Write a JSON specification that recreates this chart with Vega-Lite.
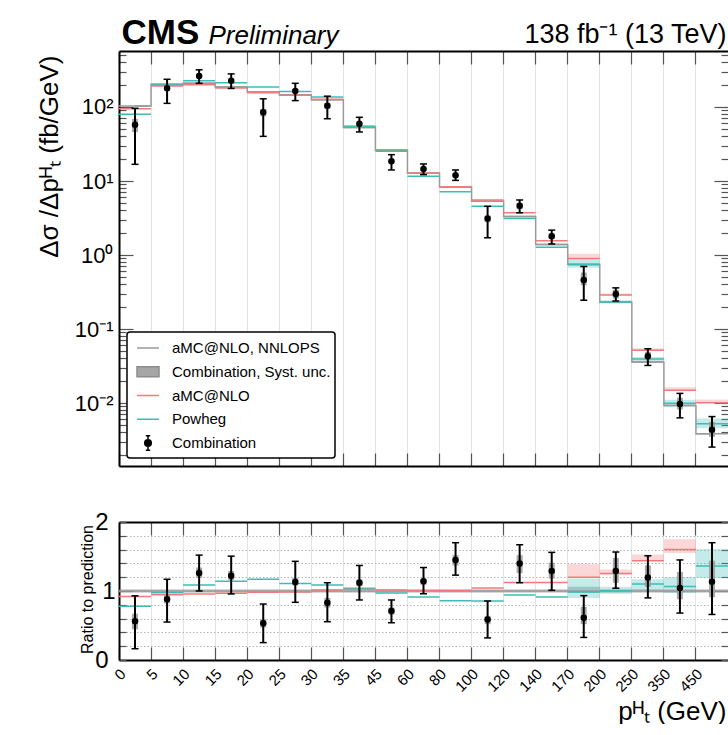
{
  "$schema": "https://vega.github.io/schema/vega-lite/v6.json",
  "background": "white",
  "padding": {"left": 36, "top": 15, "right": 0, "bottom": 0},
  "config": {
    "font": "Liberation Sans",
    "view": {"stroke": null},
    "axis": {
      "labelFont": "Liberation Sans",
      "titleFont": "Liberation Sans",
      "labelColor": "black",
      "titleColor": "black",
      "titleFontWeight": "normal",
      "domainColor": "black",
      "domainWidth": 2,
      "tickColor": "#555555",
      "tickWidth": 1.2,
      "gridColor": "#e4e4e4",
      "gridWidth": 1,
      "labelOverlap": false,
      "labelBound": false,
      "labelFlush": false
    }
  },
  "bounds": "flush",
  "spacing": 56,
  "resolve": {"scale": {"color": "independent"}, "legend": {"color": "independent"}},
  "datasets": {
    "pred": [
      {"bin": "0-5", "series": "aMC@NLO, NNLOPS", "xs": 103, "r": 1, "r_lo": 0.975, "r_hi": 1.025},
      {"bin": "5-10", "series": "aMC@NLO, NNLOPS", "xs": 203, "r": 1, "r_lo": 0.975, "r_hi": 1.025},
      {"bin": "10-15", "series": "aMC@NLO, NNLOPS", "xs": 209, "r": 1, "r_lo": 0.975, "r_hi": 1.025},
      {"bin": "15-20", "series": "aMC@NLO, NNLOPS", "xs": 186, "r": 1, "r_lo": 0.975, "r_hi": 1.025},
      {"bin": "20-25", "series": "aMC@NLO, NNLOPS", "xs": 159, "r": 1, "r_lo": 0.975, "r_hi": 1.025},
      {"bin": "25-30", "series": "aMC@NLO, NNLOPS", "xs": 146, "r": 1, "r_lo": 0.975, "r_hi": 1.025},
      {"bin": "30-35", "series": "aMC@NLO, NNLOPS", "xs": 125, "r": 1, "r_lo": 0.975, "r_hi": 1.025},
      {"bin": "35-45", "series": "aMC@NLO, NNLOPS", "xs": 53, "r": 1, "r_lo": 0.975, "r_hi": 1.025},
      {"bin": "45-60", "series": "aMC@NLO, NNLOPS", "xs": 26.1, "r": 1, "r_lo": 0.975, "r_hi": 1.025},
      {"bin": "60-80", "series": "aMC@NLO, NNLOPS", "xs": 12.7, "r": 1, "r_lo": 0.975, "r_hi": 1.025},
      {"bin": "80-100", "series": "aMC@NLO, NNLOPS", "xs": 8.3, "r": 1, "r_lo": 0.975, "r_hi": 1.025},
      {"bin": "100-120", "series": "aMC@NLO, NNLOPS", "xs": 5.32, "r": 1, "r_lo": 0.975, "r_hi": 1.025},
      {"bin": "120-140", "series": "aMC@NLO, NNLOPS", "xs": 3.31, "r": 1, "r_lo": 0.975, "r_hi": 1.025},
      {"bin": "140-170", "series": "aMC@NLO, NNLOPS", "xs": 1.39, "r": 1, "r_lo": 0.975, "r_hi": 1.025},
      {"bin": "170-200", "series": "aMC@NLO, NNLOPS", "xs": 0.75, "r": 1, "r_lo": 0.97, "r_hi": 1.06},
      {"bin": "200-250", "series": "aMC@NLO, NNLOPS", "xs": 0.23, "r": 1, "r_lo": 0.975, "r_hi": 1.025},
      {"bin": "250-350", "series": "aMC@NLO, NNLOPS", "xs": 0.0358, "r": 1, "r_lo": 0.975, "r_hi": 1.025},
      {"bin": "350-450", "series": "aMC@NLO, NNLOPS", "xs": 0.00929, "r": 1, "r_lo": 0.975, "r_hi": 1.025},
      {"bin": "450-650", "series": "aMC@NLO, NNLOPS", "xs": 0.00385, "r": 1, "r_lo": 0.975, "r_hi": 1.025},

      {"bin": "0-5", "series": "aMC@NLO", "xs": 95, "r": 0.92},
      {"bin": "5-10", "series": "aMC@NLO", "xs": 192, "r": 0.946},
      {"bin": "10-15", "series": "aMC@NLO", "xs": 200, "r": 0.957},
      {"bin": "15-20", "series": "aMC@NLO", "xs": 180, "r": 0.968},
      {"bin": "20-25", "series": "aMC@NLO", "xs": 156, "r": 0.981},
      {"bin": "25-30", "series": "aMC@NLO", "xs": 144, "r": 0.986},
      {"bin": "30-35", "series": "aMC@NLO", "xs": 127, "r": 1.016},
      {"bin": "35-45", "series": "aMC@NLO", "xs": 55, "r": 1.04},
      {"bin": "45-60", "series": "aMC@NLO", "xs": 26.5, "r": 1.015},
      {"bin": "60-80", "series": "aMC@NLO", "xs": 12.8, "r": 1.008},
      {"bin": "80-100", "series": "aMC@NLO", "xs": 8.35, "r": 1.006},
      {"bin": "100-120", "series": "aMC@NLO", "xs": 5.55, "r": 1.043},
      {"bin": "120-140", "series": "aMC@NLO", "xs": 3.72, "r": 1.124},
      {"bin": "140-170", "series": "aMC@NLO", "xs": 1.56, "r": 1.122},
      {"bin": "170-200", "series": "aMC@NLO", "xs": 0.9, "xs_lo": 0.9, "xs_hi": 1.04, "r": 1.2, "r_lo": 1.2, "r_hi": 1.39},
      {"bin": "200-250", "series": "aMC@NLO", "xs": 0.288, "xs_lo": 0.285, "xs_hi": 0.301, "r": 1.252, "r_lo": 1.24, "r_hi": 1.31},
      {"bin": "250-350", "series": "aMC@NLO", "xs": 0.0515, "xs_lo": 0.0515, "xs_hi": 0.0548, "r": 1.44, "r_lo": 1.44, "r_hi": 1.53},
      {"bin": "350-450", "series": "aMC@NLO", "xs": 0.0149, "xs_lo": 0.0144, "xs_hi": 0.0163, "r": 1.6, "r_lo": 1.55, "r_hi": 1.75},
      {"bin": "450-650", "series": "aMC@NLO", "xs": 0.0101, "xs_lo": 0.01, "xs_hi": 0.0112, "r": 2.62, "r_lo": 2.6, "r_hi": 2.9},

      {"bin": "0-5", "series": "Powheg", "xs": 80, "r": 0.78},
      {"bin": "5-10", "series": "Powheg", "xs": 198, "r": 0.975},
      {"bin": "10-15", "series": "Powheg", "xs": 227, "r": 1.086},
      {"bin": "15-20", "series": "Powheg", "xs": 212, "r": 1.14},
      {"bin": "20-25", "series": "Powheg", "xs": 186, "r": 1.17},
      {"bin": "25-30", "series": "Powheg", "xs": 162, "r": 1.11},
      {"bin": "30-35", "series": "Powheg", "xs": 136, "r": 1.088},
      {"bin": "35-45", "series": "Powheg", "xs": 54.6, "r": 1.03},
      {"bin": "45-60", "series": "Powheg", "xs": 25.3, "r": 0.97},
      {"bin": "60-80", "series": "Powheg", "xs": 11.6, "r": 0.913},
      {"bin": "80-100", "series": "Powheg", "xs": 7.15, "r": 0.86},
      {"bin": "100-120", "series": "Powheg", "xs": 4.55, "r": 0.855},
      {"bin": "120-140", "series": "Powheg", "xs": 3.12, "r": 0.943},
      {"bin": "140-170", "series": "Powheg", "xs": 1.27, "r": 0.914},
      {"bin": "170-200", "series": "Powheg", "xs": 0.74, "xs_lo": 0.675, "xs_hi": 0.885, "r": 0.987, "r_lo": 0.9, "r_hi": 1.18},
      {"bin": "200-250", "series": "Powheg", "xs": 0.231, "xs_lo": 0.221, "xs_hi": 0.244, "r": 1.004, "r_lo": 0.96, "r_hi": 1.06},
      {"bin": "250-350", "series": "Powheg", "xs": 0.0395, "xs_lo": 0.0358, "xs_hi": 0.0419, "r": 1.1, "r_lo": 1.0, "r_hi": 1.17},
      {"bin": "350-450", "series": "Powheg", "xs": 0.0099, "xs_lo": 0.009, "xs_hi": 0.0111, "r": 1.066, "r_lo": 0.97, "r_hi": 1.2},
      {"bin": "450-650", "series": "Powheg", "xs": 0.00525, "xs_lo": 0.00458, "xs_hi": 0.0062, "r": 1.364, "r_lo": 1.19, "r_hi": 1.61}
    ],
    "combo": [
      {"bin": "0-5", "xs": 57.6, "xs_lo": 16.8, "xs_hi": 96, "sys_lo": 45.8, "sys_hi": 69, "r": 0.56, "r_lo": 0.163, "r_hi": 0.93, "rs_lo": 0.445, "rs_hi": 0.67},
      {"bin": "5-10", "xs": 179, "xs_lo": 112, "xs_hi": 237, "sys_lo": 166.5, "sys_hi": 191, "r": 0.88, "r_lo": 0.55, "r_hi": 1.17, "rs_lo": 0.82, "rs_hi": 0.94},
      {"bin": "10-15", "xs": 263, "xs_lo": 209, "xs_hi": 318, "sys_lo": 249, "sys_hi": 280, "r": 1.26, "r_lo": 1.0, "r_hi": 1.52, "rs_lo": 1.19, "rs_hi": 1.34},
      {"bin": "15-20", "xs": 227, "xs_lo": 178, "xs_hi": 280, "sys_lo": 216, "sys_hi": 240, "r": 1.22, "r_lo": 0.957, "r_hi": 1.505, "rs_lo": 1.16, "rs_hi": 1.29},
      {"bin": "20-25", "xs": 84.8, "xs_lo": 40.1, "xs_hi": 129, "sys_lo": 74.8, "sys_hi": 93.8, "r": 0.533, "r_lo": 0.252, "r_hi": 0.811, "rs_lo": 0.47, "rs_hi": 0.59},
      {"bin": "25-30", "xs": 165, "xs_lo": 122, "xs_hi": 209, "sys_lo": 158, "sys_hi": 174, "r": 1.13, "r_lo": 0.836, "r_hi": 1.43, "rs_lo": 1.08, "rs_hi": 1.19},
      {"bin": "30-35", "xs": 104, "xs_lo": 69.4, "xs_hi": 140, "sys_lo": 95, "sys_hi": 112.5, "r": 0.83, "r_lo": 0.555, "r_hi": 1.12, "rs_lo": 0.76, "rs_hi": 0.9},
      {"bin": "35-45", "xs": 59.4, "xs_lo": 46, "xs_hi": 72.6, "sys_lo": 56.7, "sys_hi": 62, "r": 1.12, "r_lo": 0.87, "r_hi": 1.37, "rs_lo": 1.07, "rs_hi": 1.17},
      {"bin": "45-60", "xs": 18.5, "xs_lo": 14.1, "xs_hi": 22.7, "sys_lo": 17.2, "sys_hi": 19.8, "r": 0.71, "r_lo": 0.54, "r_hi": 0.87, "rs_lo": 0.66, "rs_hi": 0.76},
      {"bin": "60-80", "xs": 14.5, "xs_lo": 12.2, "xs_hi": 17, "sys_lo": 13.8, "sys_hi": 15, "r": 1.14, "r_lo": 0.96, "r_hi": 1.34, "rs_lo": 1.09, "rs_hi": 1.18},
      {"bin": "80-100", "xs": 12.0, "xs_lo": 10.2, "xs_hi": 14.1, "sys_lo": 11.4, "sys_hi": 12.6, "r": 1.45, "r_lo": 1.23, "r_hi": 1.7, "rs_lo": 1.37, "rs_hi": 1.52},
      {"bin": "100-120", "xs": 3.12, "xs_lo": 1.71, "xs_hi": 4.55, "sys_lo": 2.77, "sys_hi": 3.4, "r": 0.586, "r_lo": 0.32, "r_hi": 0.855, "rs_lo": 0.52, "rs_hi": 0.64},
      {"bin": "120-140", "xs": 4.64, "xs_lo": 3.72, "xs_hi": 5.54, "sys_lo": 4.17, "sys_hi": 5.03, "r": 1.4, "r_lo": 1.12, "r_hi": 1.67, "rs_lo": 1.26, "rs_hi": 1.52},
      {"bin": "140-170", "xs": 1.79, "xs_lo": 1.41, "xs_hi": 2.17, "sys_lo": 1.64, "sys_hi": 1.96, "r": 1.29, "r_lo": 1.01, "r_hi": 1.56, "rs_lo": 1.18, "rs_hi": 1.41},
      {"bin": "170-200", "xs": 0.46, "xs_lo": 0.245, "xs_hi": 0.7, "sys_lo": 0.39, "sys_hi": 0.58, "r": 0.613, "r_lo": 0.327, "r_hi": 0.933, "rs_lo": 0.52, "rs_hi": 0.77},
      {"bin": "200-250", "xs": 0.297, "xs_lo": 0.239, "xs_hi": 0.36, "sys_lo": 0.258, "sys_hi": 0.34, "r": 1.29, "r_lo": 1.04, "r_hi": 1.565, "rs_lo": 1.12, "rs_hi": 1.48},
      {"bin": "250-350", "xs": 0.0428, "xs_lo": 0.0322, "xs_hi": 0.0541, "sys_lo": 0.038, "sys_hi": 0.049, "r": 1.195, "r_lo": 0.9, "r_hi": 1.51, "rs_lo": 1.06, "rs_hi": 1.37},
      {"bin": "350-450", "xs": 0.0097, "xs_lo": 0.0063, "xs_hi": 0.0135, "sys_lo": 0.0082, "sys_hi": 0.0118, "r": 1.045, "r_lo": 0.68, "r_hi": 1.45, "rs_lo": 0.88, "rs_hi": 1.275},
      {"bin": "450-650", "xs": 0.00437, "xs_lo": 0.00254, "xs_hi": 0.00656, "sys_lo": 0.0035, "sys_hi": 0.00555, "r": 1.135, "r_lo": 0.66, "r_hi": 1.7, "rs_lo": 0.91, "rs_hi": 1.44}
    ]
  },
  "vconcat": [
    {
      "width": 609,
      "height": 415,
      "encoding": {
        "x": {"field": "bin", "type": "ordinal", "scale": {"type": "band", "domain": ["0-5","5-10","10-15","15-20","20-25","25-30","30-35","35-45","45-60","60-80","80-100","100-120","120-140","140-170","170-200","200-250","250-350","350-450","450-650"], "paddingInner": 0, "paddingOuter": 0}, "axis": null}
      },
      "layer": [
        {
          "data": {"name": "pred"},
          "transform": [{"filter": "datum.series === 'aMC@NLO'"}],
          "mark": {"type": "bar", "width": {"band": 1}, "color": "#f27a7a", "fillOpacity": 0.3},
          "encoding": {
            "x": {"field": "bin", "type": "ordinal", "scale": {"type": "band", "domain": ["0-5","5-10","10-15","15-20","20-25","25-30","30-35","35-45","45-60","60-80","80-100","100-120","120-140","140-170","170-200","200-250","250-350","350-450","450-650"], "paddingInner": 0, "paddingOuter": 0},
              "axis": {"orient": "bottom", "bandPosition": 0, "labels": false, "title": null, "tickSize": -13, "grid": true}},
            "y": {"field": "xs_lo", "type": "quantitative", "scale": {"type": "log", "domain": [0.00141, 571], "nice": false},
              "axis": {
                "orient": "left",
                "values": [0.002,0.003,0.004,0.005,0.006,0.007,0.008,0.009,0.01,0.02,0.03,0.04,0.05,0.06,0.07,0.08,0.09,0.1,0.2,0.3,0.4,0.5,0.6,0.7,0.8,0.9,1,2,3,4,5,6,7,8,9,10,20,30,40,50,60,70,80,90,100,200,300,400,500],
                "labelExpr": "datum.value == 100 ? '10²' : datum.value == 10 ? '10¹' : datum.value == 1 ? '10⁰' : datum.value == 0.1 ? '10⁻¹' : datum.value == 0.01 ? '10⁻²' : ''",
                "labelFontSize": 22,
                "labelPadding": 20,
                "tickSize": {"condition": {"test": "datum.value == 0.01 || datum.value == 0.1 || datum.value == 1 || datum.value == 10 || datum.value == 100", "value": -14}, "value": -7},
                "grid": false,
                "title": "Δσ /Δpᴴₜ (fb/GeV)",
                "titleFontSize": 26,
                "titleAngle": 270,
                "titleX": -62,
                "titleY": 4,
                "titleAlign": "right",
                "titleBaseline": "alphabetic"
              }},
            "y2": {"field": "xs_hi"}
          }
        },
        {
          "data": {"name": "pred"},
          "transform": [{"filter": "datum.series === 'Powheg'"}],
          "mark": {"type": "bar", "width": {"band": 1}, "color": "#3dbdb5", "fillOpacity": 0.3},
          "encoding": {
            "x": {"field": "bin", "type": "ordinal", "scale": {"type": "band", "domain": ["0-5","5-10","10-15","15-20","20-25","25-30","30-35","35-45","45-60","60-80","80-100","100-120","120-140","140-170","170-200","200-250","250-350","350-450","450-650"], "paddingInner": 0, "paddingOuter": 0},
              "axis": {"orient": "top", "bandPosition": 0, "labels": false, "tickSize": -13, "grid": false,
                "title": "138 fb⁻¹ (13 TeV)", "titleFontSize": 27, "titleX": 607, "titleY": -9, "titleAlign": "right", "titleBaseline": "alphabetic"}},
            "y": {"field": "xs_lo", "type": "quantitative", "scale": {"type": "log", "domain": [0.00141, 571], "nice": false},
              "axis": {
                "orient": "right",
                "values": [0.002,0.003,0.004,0.005,0.006,0.007,0.008,0.009,0.01,0.02,0.03,0.04,0.05,0.06,0.07,0.08,0.09,0.1,0.2,0.3,0.4,0.5,0.6,0.7,0.8,0.9,1,2,3,4,5,6,7,8,9,10,20,30,40,50,60,70,80,90,100,200,300,400,500],
                "labels": false,
                "domain": false,
                "tickSize": {"condition": {"test": "datum.value == 0.01 || datum.value == 0.1 || datum.value == 1 || datum.value == 10 || datum.value == 100", "value": -14}, "value": -7},
                "grid": false,
                "title": null
              }},
            "y2": {"field": "xs_hi"}
          }
        },
        {
          "data": {"name": "pred"},
          "transform": [{"filter": "datum.series === 'aMC@NLO, NNLOPS'"}],
          "mark": {"type": "line", "interpolate": "step", "color": "#9a9a9a", "strokeWidth": 1.5},
          "encoding": {
            "x": {"field": "bin", "type": "ordinal", "scale": {"type": "band", "domain": ["0-5","5-10","10-15","15-20","20-25","25-30","30-35","35-45","45-60","60-80","80-100","100-120","120-140","140-170","170-200","200-250","250-350","350-450","450-650"], "paddingInner": 0, "paddingOuter": 0},
              "axis": {"orient": "top", "ticks": false, "labels": false, "domain": false, "grid": false,
                "title": "CMS", "titleFontSize": 35, "titleFontWeight": "bold", "titleX": 2, "titleY": -8, "titleAlign": "left", "titleBaseline": "alphabetic"}},
            "y": {"field": "xs", "type": "quantitative", "scale": {"type": "log", "domain": [0.00141, 571], "nice": false}, "axis": null}
          }
        },
        {
          "data": {"name": "pred"},
          "mark": {"type": "tick", "orient": "horizontal", "size": 32.05, "thickness": 1.5, "opacity": 1},
          "encoding": {
            "x": {"field": "bin", "type": "ordinal", "scale": {"type": "band", "domain": ["0-5","5-10","10-15","15-20","20-25","25-30","30-35","35-45","45-60","60-80","80-100","100-120","120-140","140-170","170-200","200-250","250-350","350-450","450-650"], "paddingInner": 0, "paddingOuter": 0},
              "axis": {"orient": "top", "ticks": false, "labels": false, "domain": false, "grid": false,
                "title": "Preliminary", "titleFontSize": 26, "titleFontStyle": "italic", "titleX": 89, "titleY": -8, "titleAlign": "left", "titleBaseline": "alphabetic"}},
            "y": {"field": "xs", "type": "quantitative", "scale": {"type": "log", "domain": [0.00141, 571], "nice": false}, "axis": null},
            "color": {
              "field": "series", "type": "nominal",
              "scale": {"domain": ["aMC@NLO, NNLOPS", "Combination, Syst. unc.", "aMC@NLO", "Powheg", "Combination"], "range": ["#9a9a9a", "#a6a6a6", "#f27a7a", "#3dbdb5", "#000000"]},
              "legend": {
                "title": null,
                "orient": "bottom-left",
                "offset": 8,
                "fillColor": "white",
                "strokeColor": "black",
                "padding": 4,
                "rowPadding": 0.75,
                "symbolOffset": 5,
                "labelOffset": 12,
                "symbolSize": 484,
                "labelFontSize": 15,
                "labelFont": "Liberation Sans",
                "labelColor": "black",
                "labelLimit": 300,
                "encoding": {
                  "legend": {"strokeWidth": {"value": 1.5}, "cornerRadius": {"value": 3}},
                  "symbols": {
                    "shape": {"condition": [
                      {"test": "datum.value === 'Combination'", "value": "M-0.3,0A0.3,0.3 0 1,1 0.3,0A0.3,0.3 0 1,1 -0.3,0ZM0,-0.66V0.66M-0.2,-0.66H0.2M-0.2,0.66H0.2M0,-0.67M0,0.67"},
                      {"test": "datum.value === 'Combination, Syst. unc.'", "value": "M-1,-0.45H1V0.45H-1ZM0,-0.67M0,0.67"}
                    ], "value": "M-1,0H1M0,-0.67M0,0.67"},
                    "fill": {"condition": [
                      {"test": "datum.value === 'Combination'", "value": "#000000"},
                      {"test": "datum.value === 'Combination, Syst. unc.'", "value": "#a6a6a6"}
                    ], "value": "transparent"},
                    "stroke": {"condition": [
                      {"test": "datum.value === 'Combination'", "value": "#000000"},
                      {"test": "datum.value === 'Combination, Syst. unc.'", "value": "#8c8c8c"},
                      {"test": "datum.value === 'aMC@NLO'", "value": "#f27a7a"},
                      {"test": "datum.value === 'Powheg'", "value": "#3dbdb5"}
                    ], "value": "#9a9a9a"},
                    "strokeWidth": {"value": 1.5},
                    "opacity": {"value": 1}
                  }
                }
              }
            }
          }
        },
        {
          "data": {"name": "combo"},
          "mark": {"type": "bar", "width": 6, "color": "#9a9a9a", "opacity": 0.85},
          "encoding": {
            "y": {"field": "sys_lo", "type": "quantitative", "scale": {"type": "log", "domain": [0.00141, 571], "nice": false}, "axis": null},
            "y2": {"field": "sys_hi"}
          }
        },
        {
          "data": {"name": "combo"},
          "mark": {"type": "rule", "color": "black", "strokeWidth": 2},
          "encoding": {
            "y": {"field": "xs_lo", "type": "quantitative", "scale": {"type": "log", "domain": [0.00141, 571], "nice": false}, "axis": null},
            "y2": {"field": "xs_hi"}
          }
        },
        {
          "data": {"name": "combo"},
          "mark": {"type": "tick", "orient": "horizontal", "size": 7, "thickness": 1.5, "color": "black", "opacity": 1},
          "encoding": {
            "y": {"field": "xs_lo", "type": "quantitative", "scale": {"type": "log", "domain": [0.00141, 571], "nice": false}, "axis": null}
          }
        },
        {
          "data": {"name": "combo"},
          "mark": {"type": "tick", "orient": "horizontal", "size": 7, "thickness": 1.5, "color": "black", "opacity": 1},
          "encoding": {
            "y": {"field": "xs_hi", "type": "quantitative", "scale": {"type": "log", "domain": [0.00141, 571], "nice": false}, "axis": null}
          }
        },
        {
          "data": {"name": "combo"},
          "mark": {"type": "point", "filled": true, "size": 42, "color": "black", "opacity": 1},
          "encoding": {
            "y": {"field": "xs", "type": "quantitative", "scale": {"type": "log", "domain": [0.00141, 571], "nice": false}, "axis": null}
          }
        }
      ],
      "resolve": {"axis": {"x": "independent", "y": "independent"}}
    },
    {
      "width": 609,
      "height": 138,
      "encoding": {
        "x": {"field": "bin", "type": "ordinal", "scale": {"type": "band", "domain": ["0-5","5-10","10-15","15-20","20-25","25-30","30-35","35-45","45-60","60-80","80-100","100-120","120-140","140-170","170-200","200-250","250-350","350-450","450-650"], "paddingInner": 0, "paddingOuter": 0}, "axis": null}
      },
      "layer": [
        {
          "data": {"name": "pred"},
          "transform": [{"filter": "datum.series === 'aMC@NLO, NNLOPS'"}],
          "mark": {"type": "bar", "width": {"band": 1}, "color": "#8a8a8a", "fillOpacity": 0.45},
          "encoding": {
            "x": {"field": "bin", "type": "ordinal", "scale": {"type": "band", "domain": ["0-5","5-10","10-15","15-20","20-25","25-30","30-35","35-45","45-60","60-80","80-100","100-120","120-140","140-170","170-200","200-250","250-350","350-450","450-650"], "paddingInner": 0, "paddingOuter": 0},
              "axis": {"orient": "bottom", "bandPosition": 0, "labelExpr": "split(datum.label, '-')[0]", "labelAngle": -45, "labelAlign": "right", "labelBaseline": "middle", "labelFontSize": 15, "labelOffset": -12, "labelPadding": 24, "tickSize": -13, "grid": true,
                "title": "pᴴₜ (GeV)", "titleFontSize": 26, "titleX": 607, "titleY": 59, "titleAlign": "right", "titleBaseline": "alphabetic"}},
            "y": {"field": "r_lo", "type": "quantitative", "scale": {"domain": [0, 2], "nice": false},
              "axis": {
                "orient": "left",
                "values": [0, 0.2, 0.4, 0.6, 0.8, 1, 1.2, 1.4, 1.6, 1.8, 2],
                "labelExpr": "datum.value == 0 ? '0' : datum.value == 1 ? '1' : datum.value == 2 ? '2' : ''",
                "labelFontSize": 24,
                "labelPadding": 18,
                "tickSize": {"condition": {"test": "datum.value == 1", "value": -14}, "value": -7},
                "grid": true,
                "gridDash": [1.5, 2],
                "gridColor": "#b4b4b4",
                "title": "Ratio to prediction",
                "titleFontSize": 16,
                "titleAngle": 270,
                "titleX": -27,
                "titleY": 67,
                "titleAlign": "center",
                "titleBaseline": "alphabetic"
              }},
            "y2": {"field": "r_hi"}
          }
        },
        {
          "data": {"name": "pred"},
          "transform": [{"filter": "datum.series === 'aMC@NLO'"}],
          "mark": {"type": "bar", "width": {"band": 1}, "color": "#f27a7a", "fillOpacity": 0.3, "clip": true},
          "encoding": {
            "x": {"field": "bin", "type": "ordinal", "scale": {"type": "band", "domain": ["0-5","5-10","10-15","15-20","20-25","25-30","30-35","35-45","45-60","60-80","80-100","100-120","120-140","140-170","170-200","200-250","250-350","350-450","450-650"], "paddingInner": 0, "paddingOuter": 0},
              "axis": {"orient": "top", "bandPosition": 0, "labels": false, "tickSize": -13, "grid": false, "title": null}},
            "y": {"field": "r_lo", "type": "quantitative", "scale": {"domain": [0, 2], "nice": false},
              "axis": {
                "orient": "right",
                "values": [0, 0.2, 0.4, 0.6, 0.8, 1, 1.2, 1.4, 1.6, 1.8, 2],
                "labels": false,
                "domain": false,
                "tickSize": {"condition": {"test": "datum.value == 1", "value": -14}, "value": -7},
                "grid": false,
                "title": null
              }},
            "y2": {"field": "r_hi"}
          }
        },
        {
          "data": {"name": "pred"},
          "transform": [{"filter": "datum.series === 'Powheg'"}],
          "mark": {"type": "bar", "width": {"band": 1}, "color": "#3dbdb5", "fillOpacity": 0.3, "clip": true},
          "encoding": {
            "y": {"field": "r_lo", "type": "quantitative", "scale": {"domain": [0, 2], "nice": false}, "axis": null},
            "y2": {"field": "r_hi"}
          }
        },
        {
          "data": {"name": "pred"},
          "mark": {"type": "tick", "orient": "horizontal", "size": 32.05, "thickness": 1.5, "opacity": 1, "clip": true},
          "encoding": {
            "y": {"field": "r", "type": "quantitative", "scale": {"domain": [0, 2], "nice": false}, "axis": null},
            "color": {
              "field": "series", "type": "nominal",
              "scale": {"domain": ["aMC@NLO, NNLOPS", "Combination, Syst. unc.", "aMC@NLO", "Powheg", "Combination"], "range": ["#9a9a9a", "#a6a6a6", "#f27a7a", "#3dbdb5", "#000000"]},
              "legend": null
            }
          }
        },
        {
          "data": {"name": "combo"},
          "mark": {"type": "bar", "width": 6, "color": "#9a9a9a", "opacity": 0.85},
          "encoding": {
            "y": {"field": "rs_lo", "type": "quantitative", "scale": {"domain": [0, 2], "nice": false}, "axis": null},
            "y2": {"field": "rs_hi"}
          }
        },
        {
          "data": {"name": "combo"},
          "mark": {"type": "rule", "color": "black", "strokeWidth": 2},
          "encoding": {
            "y": {"field": "r_lo", "type": "quantitative", "scale": {"domain": [0, 2], "nice": false}, "axis": null},
            "y2": {"field": "r_hi"}
          }
        },
        {
          "data": {"name": "combo"},
          "mark": {"type": "tick", "orient": "horizontal", "size": 7, "thickness": 1.5, "color": "black", "opacity": 1},
          "encoding": {
            "y": {"field": "r_lo", "type": "quantitative", "scale": {"domain": [0, 2], "nice": false}, "axis": null}
          }
        },
        {
          "data": {"name": "combo"},
          "mark": {"type": "tick", "orient": "horizontal", "size": 7, "thickness": 1.5, "color": "black", "opacity": 1},
          "encoding": {
            "y": {"field": "r_hi", "type": "quantitative", "scale": {"domain": [0, 2], "nice": false}, "axis": null}
          }
        },
        {
          "data": {"name": "combo"},
          "mark": {"type": "point", "filled": true, "size": 42, "color": "black", "opacity": 1},
          "encoding": {
            "y": {"field": "r", "type": "quantitative", "scale": {"domain": [0, 2], "nice": false}, "axis": null}
          }
        }
      ],
      "resolve": {"axis": {"x": "independent", "y": "independent"}}
    }
  ]
}
